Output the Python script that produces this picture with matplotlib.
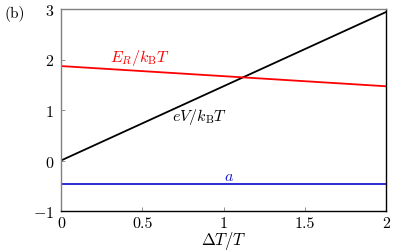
import matplotlib
matplotlib.use("Agg")
import matplotlib.pyplot as plt
import numpy as np

plt.rcParams['font.family'] = 'cmr10'
plt.rcParams['mathtext.fontset'] = 'cm'
plt.rcParams['axes.formatter.use_mathtext'] = True
plt.rcParams['font.size'] = 11.5

x = [0.0, 2.0]
eV = [0.0, 2.94]
ER = [1.87, 1.47]
a = [-0.465, -0.465]

fig = plt.figure(figsize=(4.07, 2.53), dpi=100)
ax = fig.add_axes([61/407, 1-212/253, (386-61)/407, (212-10)/253])
ax.plot(x, eV, color='black', lw=1.3)
ax.plot(x, ER, color='red', lw=1.3)
ax.plot(x, a, color='#1a1acc', lw=1.3)
ax.set_xlim(0, 2)
ax.set_ylim(-1, 3)
ax.set_xticks([0, 0.5, 1, 1.5, 2])
ax.set_xticklabels(['0', '0.5', '1', '1.5', '2'])
ax.set_yticks([-1, 0, 1, 2, 3])
ax.tick_params(direction='in', length=3, width=0.6, color='gray', pad=5, labelsize=11.5)
ax.tick_params(axis='x', pad=4)
for s in ['left', 'top']:
    ax.spines[s].set_color('gray')
for s in ['right', 'bottom']:
    ax.spines[s].set_color('black')
for s in ax.spines.values():
    s.set_linewidth(1.0)
ax.set_xlabel(r'$\Delta T/T$', labelpad=-1, fontsize=12)
ax.text(0.3, 1.98, r'$E_R/k_{\rm B}T$', color='red', fontsize=11.5)
ax.text(0.68, 0.8, r'$eV/k_{\rm B}T$', color='black', fontsize=11.5)
ax.text(1.0, -0.38, r'$a$', color='#1a1acc', fontsize=11.5)
fig.text(4/407, 1-18/253, '(b)', fontsize=11)
fig.savefig('out.png', dpi=100)
